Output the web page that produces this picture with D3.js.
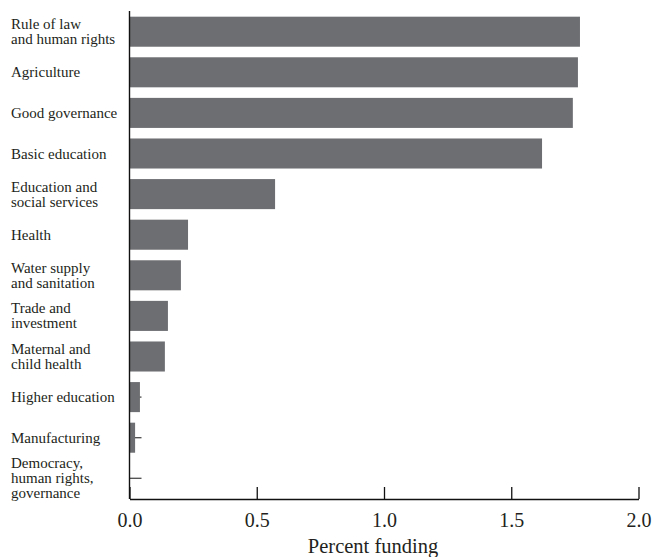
<!DOCTYPE html>
<html>
<head>
<meta charset="utf-8">
<script src="https://cdn.jsdelivr.net/npm/d3@7"></script>
<style>
  html, body { margin: 0; padding: 0; background: #fff; }
  svg { display: block; }
  text { font-family: "Liberation Serif", "Times New Roman", "DejaVu Serif", serif; fill: #231f20; }
</style>
</head>
<body>
<svg id="chart" width="653" height="557"></svg>
<script>
const categories = [
  "Rule of law\nand human rights",
  "Agriculture",
  "Good governance",
  "Basic education",
  "Education and\nsocial services",
  "Health",
  "Water supply\nand sanitation",
  "Trade and\ninvestment",
  "Maternal and\nchild health",
  "Higher education",
  "Manufacturing",
  "Democracy,\nhuman rights,\ngovernance"
];
const values = [1.77, 1.762, 1.742, 1.621, 0.572, 0.230, 0.202, 0.151, 0.139, 0.041, 0.022, 0.0];
const xTicks = [0, 0.5, 1.0, 1.5, 2.0];
const xTitle = "Percent funding";

(function () {
const svg = d3.select("#chart");
const mLeft = 129.5, mRight = 638.5, mTop = 11, mBottom = 499;

const x = d3.scaleLinear().domain([0, 2]).range([mLeft, mRight]);
const y = d3.scaleBand().domain(categories).range([mTop, mBottom])
  .paddingInner(0.26).paddingOuter(0.14);

// y axis ticks (drawn first, behind bars)
const yAxis = d3.axisLeft(y).tickSizeInner(-12).tickSizeOuter(0).tickFormat("");
const gy = svg.append("g").attr("transform", `translate(${mLeft},0)`).call(yAxis);
gy.select(".domain").remove();
gy.selectAll(".tick line").attr("stroke", "#4a4a4a").attr("stroke-width", 1.3);

// y labels (multi-line)
const lh = 15;
categories.forEach(c => {
  const lines = c.split("\n");
  const cy = y(c) + y.bandwidth() / 2;
  const t = svg.append("text")
    .attr("x", 11)
    .attr("font-size", 15)
    .attr("text-anchor", "start");
  lines.forEach((ln, i) => {
    t.append("tspan")
      .attr("x", 11)
      .attr("y", cy + 5 - (lines.length - 1) * lh / 2 + i * lh)
      .text(ln);
  });
});

// bars
svg.append("g").selectAll("rect")
  .data(categories)
  .join("rect")
  .attr("x", x(0))
  .attr("y", d => y(d))
  .attr("width", (d, i) => x(values[i]) - x(0))
  .attr("height", y.bandwidth())
  .attr("fill", "#6d6e71");

// y axis line
svg.append("line")
  .attr("x1", mLeft).attr("x2", mLeft)
  .attr("y1", mTop).attr("y2", mBottom)
  .attr("stroke", "#111").attr("stroke-width", 1.4);

// x axis
const xAxis = d3.axisBottom(x).tickValues(xTicks).tickSizeInner(-12).tickSizeOuter(0)
  .tickPadding(16).tickFormat(d3.format(".1f"));
const gx = svg.append("g").attr("transform", `translate(0,${mBottom})`).call(xAxis);
gx.select(".domain").attr("stroke", "#111").attr("stroke-width", 1.4);
gx.selectAll(".tick line").attr("stroke", "#111").attr("stroke-width", 1.3);
gx.selectAll(".tick text")
  .attr("font-size", 20)
  .attr("font-family", "Liberation Serif, Times New Roman, DejaVu Serif, serif")
  .attr("fill", "#231f20")
  .attr("dy", null)
  .attr("y", 28);

svg.append("text")
  .attr("x", (mLeft + mRight) / 2 - 11)
  .attr("y", 553)
  .attr("text-anchor", "middle")
  .attr("font-size", 20.5)
  .text(xTitle);
})();
</script>
</body>
</html>
